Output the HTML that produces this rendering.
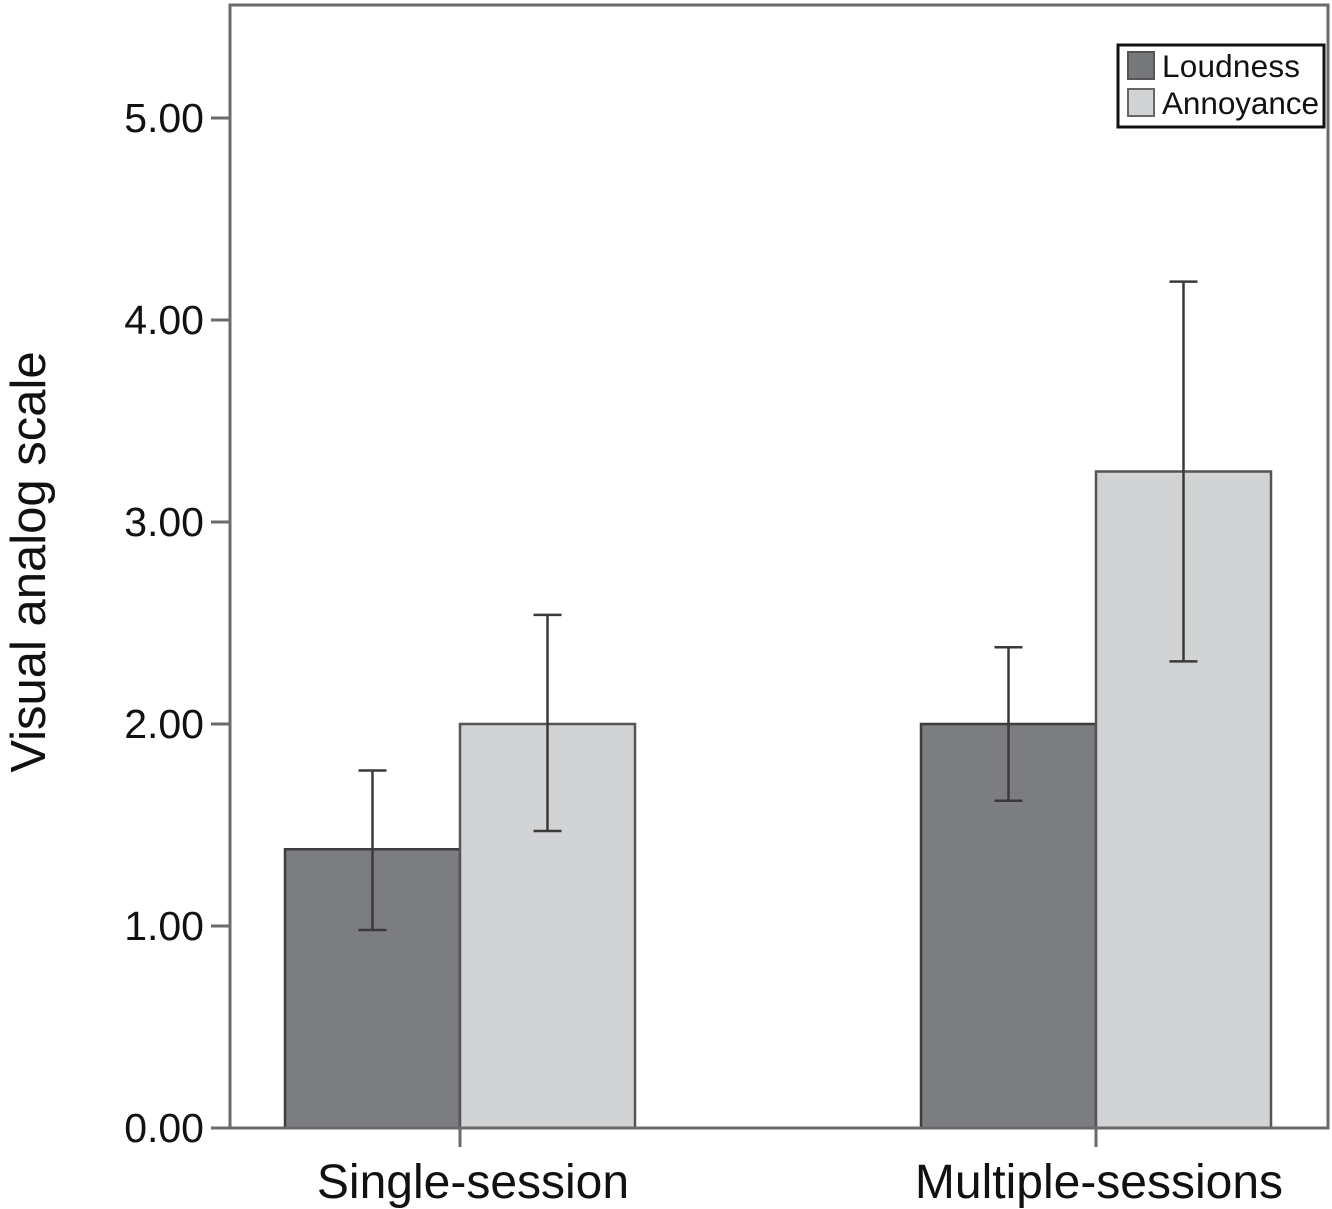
<!DOCTYPE html>
<html><head><meta charset="utf-8"><style>body{margin:0;background:#fff}svg{display:block;font-family:"Liberation Sans",sans-serif}</style></head>
<body>
<svg id="chart" width="1332" height="1209" viewBox="0 0 1332 1209">
<text x="45" y="562" font-size="49" fill="#111" text-anchor="middle" transform="rotate(-90 45 562)">Visual analog scale</text>
<g id="marks"></g>
<rect x="230" y="5" width="1098" height="1123" fill="none" stroke="#6a6a6a" stroke-width="3"/>
<g>
<rect x="1118" y="45" width="206" height="82" fill="#fff" stroke="#111" stroke-width="3"/>
<rect x="1128" y="52" width="26" height="27" fill="#77787c" stroke="#555" stroke-width="2"/>
<text x="1162" y="77" font-size="31.5" fill="#111" textLength="138">Loudness</text>
<rect x="1128" y="89" width="26" height="27" fill="#d2d3d5" stroke="#666" stroke-width="2"/>
<text x="1162" y="114" font-size="31.5" fill="#111" textLength="157">Annoyance</text>
</g>
</svg>
<script>
const categories = ["Single-session", "Multiple-sessions"];
const loudness = [1.38, 2.00];
const annoyance = [2.00, 3.25];
const loudnessLow = [0.98, 1.62];
const loudnessHigh = [1.77, 2.38];
const annoyanceLow = [1.47, 2.31];
const annoyanceHigh = [2.54, 4.19];
const yTicks = [0, 1, 2, 3, 4, 5];
const yTickLabels = ["0.00", "1.00", "2.00", "3.00", "4.00", "5.00"];

const NS = "http://www.w3.org/2000/svg";
const svg = document.getElementById("chart");
const g = document.getElementById("marks");
const y = v => 1128 - v * 202;
const catCenter = i => 460 + i * 636;
const barW = 175;
function mk(tag, attrs, parent) {
  const e = document.createElementNS(NS, tag);
  for (const k in attrs) e.setAttribute(k, attrs[k]);
  (parent || g).appendChild(e);
  return e;
}
yTicks.forEach((t, i) => {
  const l = mk("line", {x1: 211, x2: 230, y1: y(t), y2: y(t), stroke: "#6a6a6a", "stroke-width": 3});
  
  
  const tx = mk("text", {x: 204, y: y(t) + 14, "font-size": 41, "text-anchor": "end", fill: "#111"}, svg);
  tx.textContent = yTickLabels[i];
  
  
});
function errBar(cx, lo, hi) {
  const e = mk("path", {d: `M${cx},${y(hi)}V${y(lo)}M${cx-14},${y(hi)}H${cx+14}M${cx-14},${y(lo)}H${cx+14}`, stroke: "#3a3a3a", "stroke-width": 2.5, fill: "none"});
  
  
}
categories.forEach((c, i) => {
  const cx = catCenter(i);
  const b1 = mk("rect", {x: cx - barW, y: y(loudness[i]), width: barW, height: 1128 - y(loudness[i]), fill: "#7c7d81", stroke: "#3d3d3d", "stroke-width": 2.5});
  
  
  const b2 = mk("rect", {x: cx, y: y(annoyance[i]), width: barW, height: 1128 - y(annoyance[i]), fill: "#d2d3d5", stroke: "#555", "stroke-width": 2.5});
  
  
  errBar(cx - barW / 2, loudnessLow[i], loudnessHigh[i]);
  errBar(cx + barW / 2, annoyanceLow[i], annoyanceHigh[i]);
  const tk = mk("line", {x1: cx, x2: cx, y1: 1128, y2: 1147, stroke: "#6a6a6a", "stroke-width": 3}, svg);
  
  
  const lb = mk("text", {x: cx + (i === 0 ? 13 : 3), y: 1198, "font-size": 48, "text-anchor": "middle", fill: "#111"}, svg);
  lb.textContent = c;
  
  
});
</script>
</body></html>
